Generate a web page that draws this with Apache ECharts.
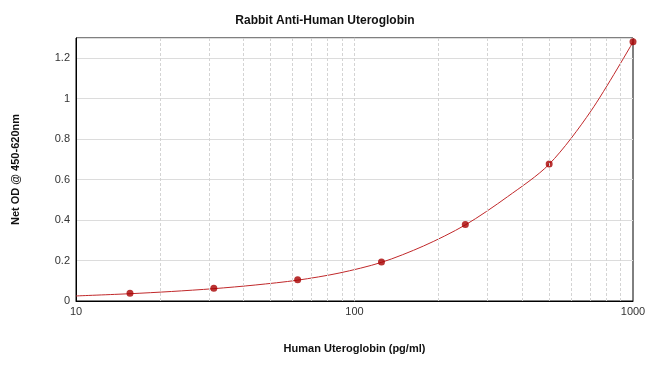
<!DOCTYPE html>
<html><head><meta charset="utf-8">
<script src="https://cdn.jsdelivr.net/npm/echarts@6/dist/echarts.min.js"></script>
<style>html,body{margin:0;padding:0;background:#fff}#c{width:650px;height:374px}</style>
</head><body><div id="c"></div>
<script>
const concentrations = [15.625, 31.25, 62.5, 125, 250, 500, 1000];
const odValues = [0.038, 0.063, 0.105, 0.193, 0.378, 0.677, 1.282];
const curveX = [10, 15.625, 22, 31.25, 44, 62.5, 88, 125, 177, 250, 354, 500, 707, 1000];
const curveY = [0.025, 0.036, 0.047, 0.061, 0.079, 0.103, 0.138, 0.191, 0.272, 0.376, 0.515, 0.676, 0.94, 1.28];
const minorGridX = [20, 30, 40, 50, 60, 70, 80, 90, 100, 200, 300, 400, 500, 600, 700, 800, 900];
const yTicks = [0, 0.2, 0.4, 0.6, 0.8, 1, 1.2];

const chart = echarts.init(document.getElementById('c'), null, {renderer: 'canvas'});
const font = 'Liberation Sans, Arial, sans-serif';
chart.setOption({
  animation: false,
  title: {
    text: 'Rabbit Anti-Human Uteroglobin',
    left: 'center', top: 10,
    textStyle: {fontFamily: font, fontSize: 12, fontWeight: 'bold', color: '#111'}
  },
  grid: {left: 76, right: 17, top: 38, bottom: 73, show: true, borderColor: '#000', borderWidth: 1},
  xAxis: {
    type: 'log', logBase: 10, min: 10, max: 1000,
    name: 'Human Uteroglobin (pg/ml)', nameLocation: 'middle', nameGap: 42,
    nameTextStyle: {fontFamily: font, fontSize: 11, fontWeight: 'bold', color: '#111'},
    axisLine: {lineStyle: {color: '#000'}},
    axisTick: {show: false},
    splitLine: {show: false},
    axisLabel: {fontFamily: font, fontSize: 11, color: '#333', margin: 5,
      formatter: v => String(Math.round(v))}
  },
  yAxis: {
    type: 'value', min: 0, max: 1.3, interval: 0.2,
    name: 'Net OD @ 450-620nm', nameLocation: 'middle', nameGap: 55, nameRotate: 90,
    nameTextStyle: {fontFamily: font, fontSize: 11, fontWeight: 'bold', color: '#111'},
    axisLine: {show: true, lineStyle: {color: '#000'}},
    axisTick: {show: false},
    splitLine: {show: true, lineStyle: {color: '#dcdcdc', width: 1}},
    axisLabel: {fontFamily: font, fontSize: 11, color: '#333', margin: 6,
      formatter: v => (yTicks.some(t => Math.abs(t - v) < 1e-9) ? String(+v.toFixed(1)) : '')}
  },
  series: [
    {
      type: 'line', data: curveX.map((x, i) => [x, curveY[i]]),
      smooth: 0.3, showSymbol: false, silent: true,
      lineStyle: {color: '#c0282a', width: 1},
      markLine: {
        silent: true, symbol: 'none', label: {show: false},
        lineStyle: {color: '#d4d4d4', type: [3, 2], width: 1},
        data: minorGridX.map(v => ({xAxis: v}))
      },
      z: 3
    },
    {
      type: 'scatter', data: concentrations.map((x, i) => [x, odValues[i]]),
      symbolSize: 7, itemStyle: {color: '#a80000'}, z: 4
    }
  ]
});
</script></body></html>
